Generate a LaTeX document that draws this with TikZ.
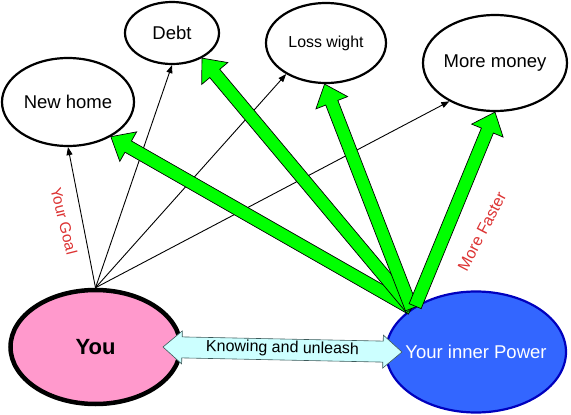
\documentclass[tikz,border=0pt]{standalone}
\usepackage{fontspec}
\setmainfont{Liberation Sans}
\usetikzlibrary{shapes.geometric,arrows.meta,calc}
\definecolor{pinkfill}{RGB}{255,153,204}
\definecolor{bluefill}{RGB}{51,102,255}
\definecolor{blueline}{RGB}{0,0,190}
\definecolor{greenfill}{RGB}{0,255,0}
\definecolor{cyanfill}{RGB}{204,255,255}
\definecolor{cyanline}{RGB}{60,90,90}
\definecolor{labelred}{RGB}{220,50,50}
\newcommand\fatarrow[2]{%
  \coordinate (fh) at ($(#2)!20pt!(#1)$);
  \draw[fatarr] ($(#1)!6.5pt!90:(#2)$) -- ($(fh)!6.5pt!90:(#2)$) -- ($(fh)!17pt!90:(#2)$) -- (#2)
     -- ($(fh)!17pt!-90:(#2)$) -- ($(fh)!6.5pt!-90:(#2)$) -- ($(#1)!6.5pt!-90:(#2)$) -- cycle;}
\begin{document}
\begin{tikzpicture}[x=1pt,y=-1pt,
  goal/.style={ellipse,draw,line width=2.2pt,fill=white,inner sep=0pt,
    font=\fontsize{18.5}{20}\selectfont},
  thinarr/.style={line width=0.9pt,-{Triangle[length=8pt,width=6pt]}},
  fatarr/.style={draw=black,line width=0.7pt,fill=greenfill,line join=miter},
  redlabel/.style={text=labelred,font=\fontsize{15.5}{17}\selectfont,inner sep=0pt}]
\useasboundingbox (0,0) rectangle (571,415);

% ellipses
\node[goal,minimum width=132pt,minimum height=88pt] (home) at (68,102) {\makebox[0pt]{New home}};
\node[goal,minimum width=94pt,minimum height=62pt] (debt) at (172,33) {\makebox[0pt]{Debt}};
\node[goal,minimum width=120pt,minimum height=80pt,font=\fontsize{15.9}{17}\selectfont] (loss) at (326,43) {\makebox[0pt]{Loss wight}};
\node[goal,minimum width=144pt,minimum height=96pt] (money) at (495,63) {\makebox[0pt]{More money}};
\node[ellipse,draw=black,line width=4.5pt,fill=pinkfill,inner sep=0pt,
  minimum width=170pt,minimum height=114pt,font=\fontsize{22}{24}\selectfont\bfseries] (you) at (95.5,347) {\makebox[0pt]{You}};
\node[ellipse,draw=blueline,line width=2.2pt,fill=bluefill,inner sep=0pt,text=white,
  minimum width=180pt,minimum height=121pt,font=\fontsize{18.5}{20}\selectfont] (power) at (476,352) {\makebox[0pt]{Your inner Power}};

% thin arrows
\draw[thinarr] (you.north) -- (home.south);
\draw[thinarr] (you.north) -- (debt.south);
\draw[thinarr] (you.north) -- (loss.-142);
\draw[thinarr] (you.north) -- (money.-140);

% green arrows
\fatarrow{power.146}{home.-39}
\fatarrow{power.146}{debt.-40}
\fatarrow{power.146}{loss.-92}
\fatarrow{power.143}{money.south}

% double arrow
\coordinate (kl) at (163,347);
\coordinate (kr) at (402,352);
\coordinate (khl) at ($(kl)!19pt!(kr)$);
\coordinate (khr) at ($(kr)!19pt!(kl)$);
\draw[draw=cyanline,line width=0.6pt,fill=cyanfill]
  (kl) -- ($(khl)!16.5pt!90:(kr)$) -- ($(khl)!10.5pt!90:(kr)$) -- ($(khr)!10.5pt!-90:(kl)$)
  -- ($(khr)!16.5pt!-90:(kl)$) -- (kr) -- ($(khr)!16.5pt!90:(kl)$) -- ($(khr)!10.5pt!90:(kl)$)
  -- ($(khl)!10.5pt!-90:(kr)$) -- ($(khl)!16.5pt!-90:(kr)$) -- cycle;
\path (kl) -- (kr) node[midway,sloped,yshift=1pt,font=\fontsize{16}{18}\selectfont] (know) {Knowing and unleash};

% labels
\node[redlabel,rotate=-76] (goallbl) at (64,221) {Your Goal};
\node[redlabel,rotate=62.5,font=\fontsize{16}{18}\selectfont] (fastlbl) at (482,231.5) {More Faster};
\end{tikzpicture}
\end{document}
